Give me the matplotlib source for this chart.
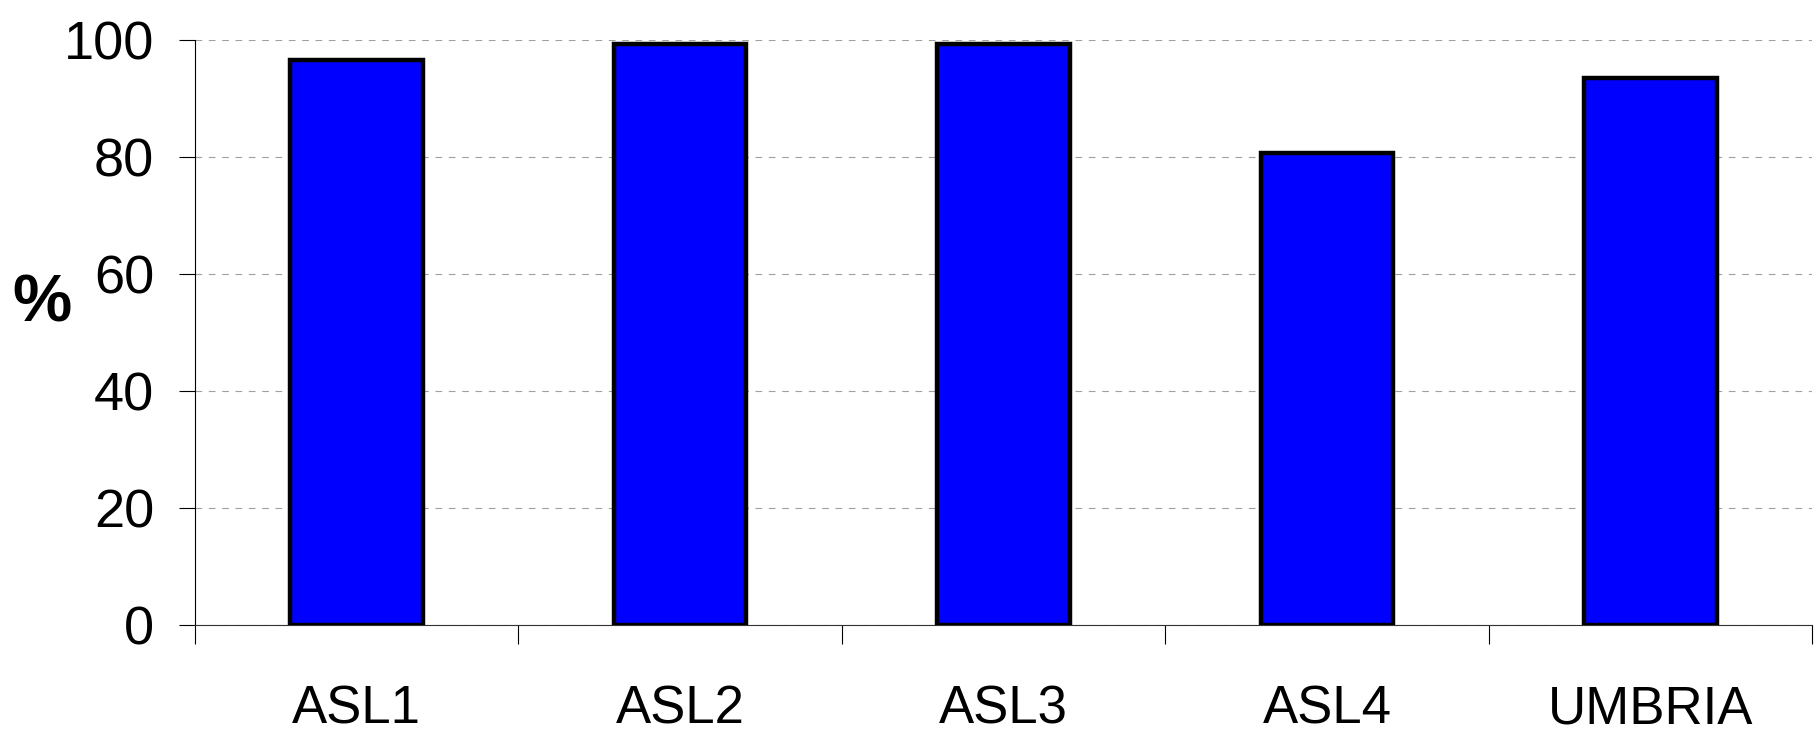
import numpy as np
import matplotlib
matplotlib.use("Agg")
import matplotlib.pyplot as plt
from matplotlib.ticker import FixedLocator

# data
categories = ["ASL1", "ASL2", "ASL3", "ASL4", "UMBRIA"]
values = [96.7, 99.3, 99.3, 80.8, 93.5]
yticks = [0, 20, 40, 60, 80, 100]

plt.rcParams['font.family'] = ['Liberation Sans Narrow', 'Liberation Sans', 'DejaVu Sans']

fig = plt.figure(figsize=(18.14, 7.37), dpi=100)
ax = fig.add_axes([0.1075, 0.1516, 0.8915, 0.7937])

x = np.arange(len(categories))
ax.bar(x, values, width=0.41, color="#0000ff", edgecolor="black", linewidth=3.2, zorder=3)

ax.set_xlim(-0.5, len(categories) - 0.5)
ax.set_ylim(0, 100)

# y axis
ax.set_yticks(yticks)
ax.set_yticklabels([str(v) for v in yticks], fontsize=39)
ax.tick_params(axis="y", direction="out", length=11.5, width=0.8, pad=18, color="black")
ax.yaxis.grid(True, linestyle=(0, (6, 6)), color="#a0a0a0", linewidth=0.8, zorder=0)

# x axis: labels at centres, ticks at category boundaries
ax.set_xticks(x)
ax.set_xticklabels(categories, fontsize=38)
ax.tick_params(axis="x", which="major", length=0, pad=43)
ax.xaxis.set_minor_locator(FixedLocator(np.arange(len(categories) + 1) - 0.5))
ax.tick_params(axis="x", which="minor", direction="out", length=13.5, width=0.8, color="black")

for side in ["top", "right"]:
    ax.spines[side].set_visible(False)
ax.spines["left"].set_linewidth(0.8)
ax.spines["bottom"].set_linewidth(0.8)
ax.spines["bottom"].set_color("#333333")

fig.text(42 / 1814, 1 - 305 / 737, "%", fontsize=48, fontweight="bold",
         ha="center", va="center", family=['Liberation Sans', 'DejaVu Sans'])

fig.savefig("out.png", dpi=100)
